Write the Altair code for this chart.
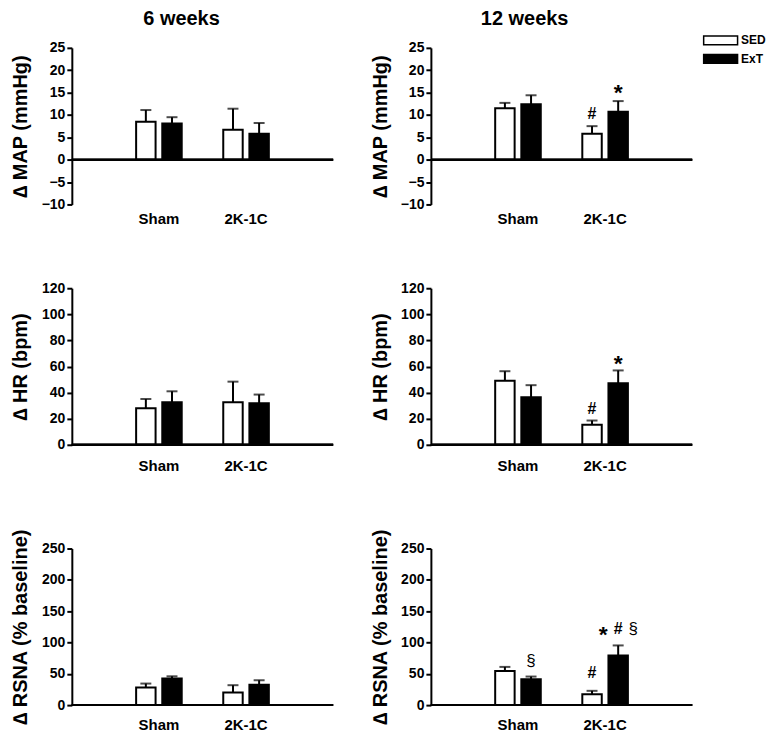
import altair as alt
import pandas as pd

groups = ["Sham", "2K-1C"]
series = ["SED", "ExT"]
col_titles = ["6 weeks", "12 weeks"]

# order of values: Sham-SED, Sham-ExT, 2K-1C-SED, 2K-1C-ExT
map6_mean = [8.5, 8.1, 6.7, 5.8]
map6_sem = [2.6, 1.4, 4.7, 2.4]
map12_mean = [11.5, 12.4, 5.8, 10.7]
map12_sem = [1.2, 2.0, 1.7, 2.4]
hr6_mean = [28.0, 32.6, 32.6, 31.8]
hr6_sem = [7.1, 8.4, 15.8, 6.7]
hr12_mean = [49.0, 36.5, 15.3, 47.2]
hr12_sem = [7.4, 9.2, 3.3, 9.8]
rsna6_mean = [28.0, 42.4, 20.2, 32.4]
rsna6_sem = [6.4, 3.6, 11.6, 7.3]
rsna12_mean = [54.6, 41.3, 17.5, 79.4]
rsna12_sem = [6.4, 4.3, 5.3, 15.9]

y_titles = ["∆ MAP (mmHg)", "∆ HR (bpm)", "∆ RSNA (% baseline)"]
y_domains = [[-10, 25], [0, 120], [0, 250]]
y_ticks = [[-10, -5, 0, 5, 10, 15, 20, 25],
           [0, 20, 40, 60, 80, 100, 120],
           [0, 50, 100, 150, 200, 250]]

# significance marks
ann_panel = ["map12", "map12", "hr12", "hr12", "rsna12", "rsna12", "rsna12", "rsna12", "rsna12"]
ann_group = ["2K-1C", "2K-1C", "2K-1C", "2K-1C", "Sham", "2K-1C", "2K-1C", "2K-1C", "2K-1C"]
ann_series = ["SED", "ExT", "SED", "ExT", "ExT", "SED", "ExT", "ExT", "ExT"]
ann_symbol = ["#", "*", "#", "*", "§", "#", "*", "#", "§"]
ann_value = [10.3, 16.2, 27.6, 66.7, 70.5, 52.0, 122.0, 122.0, 122.0]
ann_slot = [0, 0, 0, 0, 0, 0, -1, 0, 1]

W, H = 262, 157
FONT = "Liberation Sans"

sym_style = {
    "#": dict(fontSize=16, fontWeight="bold", dy=0),
    "*": dict(fontSize=23, fontWeight="bold", dy=6),
    "§": dict(fontSize=17, fontWeight="normal", dy=0),
}


def panel(key, mean, sem, row, col):
    df = pd.DataFrame({
        "group": [g for g in groups for s in series],
        "series": [s for g in groups for s in series],
        "mean": mean,
        "top": [m + e for m, e in zip(mean, sem)],
    })
    label_pad = [7, 14, 12][row]
    xaxis = alt.Axis(title=None, domain=False, ticks=False, labelAngle=0,
                     labelFontSize=15, labelFontWeight="bold",
                     labelColor="black", labelPadding=label_pad)
    xscale = alt.Scale(paddingInner=0.4767, paddingOuter=0.738)
    x = alt.X("group:N", sort=groups, scale=xscale, axis=xaxis)
    xo = alt.XOffset("series:N", sort=series,
                     scale=alt.Scale(paddingInner=0.256, paddingOuter=0))
    yscale = alt.Scale(domain=y_domains[row], nice=False, zero=False)
    yaxis = alt.Axis(values=y_ticks[row], title=y_titles[row], labelOverlap=False,
                     titleFontSize=20, titleFontWeight="bold", titleColor="black",
                     titleAngle=270, titleAlign="center", titleBaseline="bottom",
                     titleX=-41, titleY=H / 2,
                     labelFontSize=14, labelFontWeight="bold", labelColor="black",
                     labelPadding=2, tickSize=5, tickWidth=2, tickColor="black",
                     domainWidth=2, domainColor="black", grid=False)

    def Y(field):
        return alt.Y(field, scale=yscale, axis=yaxis)

    if key == "map12":
        legend = alt.Legend(orient="none", legendX=281, legendY=-17, title=None,
                            symbolType="M-2,-0.52H2V0.52H-2Z", symbolSize=289,
                            symbolStrokeColor="black", symbolStrokeWidth=1.5,
                            labelFontSize=12, labelFontWeight="bold",
                            labelColor="black", labelOffset=11, rowPadding=1.5)
    else:
        legend = None
    fill = alt.Fill("series:N", sort=series,
                    scale=alt.Scale(domain=series, range=["white", "black"]),
                    legend=legend)

    base = alt.Chart(df)
    bars = base.mark_bar(stroke="black", strokeWidth=2).encode(
        x=x, xOffset=xo, y=Y("mean:Q"), y2=alt.datum(0), fill=fill)
    err = base.mark_rule(color="black", strokeWidth=2).encode(
        x=x, xOffset=xo, y=Y("mean:Q"), y2="top:Q")
    cap = base.mark_tick(color="black", thickness=2, size=11, orient="horizontal").encode(
        x=x, xOffset=xo, y=Y("top:Q"))
    zero = base.mark_rule(color="black", strokeWidth=2).encode(
        y=alt.YDatum(0, scale=yscale, axis=yaxis))
    layers = [bars, err, cap, zero]

    for p, g, s, t, v, sl in zip(ann_panel, ann_group, ann_series, ann_symbol, ann_value, ann_slot):
        if p != key:
            continue
        st = sym_style[t]
        adf = pd.DataFrame({"group": [g], "series": [s], "sym": [t], "val": [v]})
        layers.append(
            alt.Chart(adf).mark_text(color="black", baseline="middle", align="center",
                                     fontSize=st["fontSize"], fontWeight=st["fontWeight"],
                                     dy=st["dy"], dx=sl * 15).encode(
                x=x, xOffset=xo, y=Y("val:Q"), text="sym:N"))

    props = dict(width=W, height=H)
    if row == 0:
        props["title"] = alt.TitleParams(col_titles[col], fontSize=20, fontWeight="bold",
                                         color="black", anchor="middle", frame="group",
                                         dx=[-21, -37][col], offset=[12, 2][col])
    return alt.layer(*layers).properties(**props)


panels = [
    panel("map6", map6_mean, map6_sem, 0, 0),
    panel("map12", map12_mean, map12_sem, 0, 1),
    panel("hr6", hr6_mean, hr6_sem, 1, 0),
    panel("hr12", hr12_mean, hr12_sem, 1, 1),
    panel("rsna6", rsna6_mean, rsna6_sem, 2, 0),
    panel("rsna12", rsna12_mean, rsna12_sem, 2, 1),
]

chart = alt.concat(*panels, columns=2, align="each",
                   spacing={"row": 55, "column": 35}).properties(
    padding={"left": 2, "top": 0, "right": 0, "bottom": 0}
).resolve_scale(fill="independent").resolve_legend(fill="independent").configure(
    font=FONT).configure_view(stroke=None)

chart.save("out.html", embed_options={"renderer": "svg", "actions": False})
